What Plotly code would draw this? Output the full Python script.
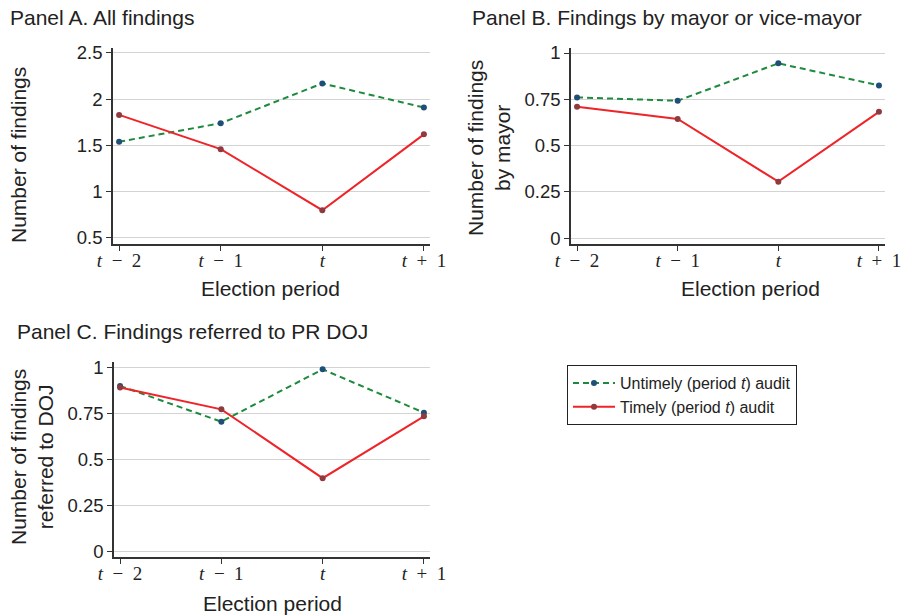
import plotly.graph_objects as go

periods = ["t-2", "t-1", "t", "t+1"]
period_labels = ["<i>t</i>\u2002\u2212\u20022", "<i>t</i>\u2002\u2212\u20021", "<i>t</i>", "<i>t</i>\u2002+\u20021"]

a_untimely = [1.54, 1.74, 2.17, 1.91]
a_timely = [1.83, 1.46, 0.80, 1.62]
b_untimely = [0.76, 0.742, 0.944, 0.825]
b_timely = [0.709, 0.644, 0.305, 0.682]
c_untimely = [0.899, 0.705, 0.989, 0.754]
c_timely = [0.891, 0.772, 0.398, 0.734]

a_ticks = [0.5, 1, 1.5, 2, 2.5]
a_tick_labels = ["0.5", "1", "1.5", "2", "2.5"]
bc_ticks = [0, 0.25, 0.5, 0.75, 1]
bc_tick_labels = ["0", "0.25", "0.5", "0.75", "1"]

x_idx = list(range(len(periods)))

GREEN = "#1e8a3e"
BLUE = "#1f4e79"
RED = "#ee2428"
DRED = "#8e3a3f"
SANS = "Liberation Sans, Arial, Helvetica, sans-serif"
SERIF = "Liberation Serif, Times New Roman, serif"
TXT = "#222222"

fig = go.Figure()

panels = [
    ("x", "y", a_untimely, a_timely),
    ("x2", "y2", b_untimely, b_timely),
    ("x3", "y3", c_untimely, c_timely),
]
for i, (xa, ya, unt, tim) in enumerate(panels):
    fig.add_trace(go.Scatter(
        x=x_idx, y=unt, xaxis=xa, yaxis=ya, mode="lines+markers",
        name="Untimely (period <i>t</i>) audit", legendgroup="u", showlegend=(i == 0),
        line=dict(color=GREEN, width=2, dash="6px,4px"),
        marker=dict(color=BLUE, size=6),
    ))
    fig.add_trace(go.Scatter(
        x=x_idx, y=tim, xaxis=xa, yaxis=ya, mode="lines+markers",
        name="Timely (period <i>t</i>) audit", legendgroup="t", showlegend=(i == 0),
        line=dict(color=RED, width=2),
        marker=dict(color=DRED, size=6),
    ))

W, H = 901, 616


def px_x(p):
    return p / W


def px_y(p):
    return 1 - p / H


xcommon = dict(
    tickmode="array", tickvals=x_idx, ticktext=period_labels,
    range=[-0.06, 3.06], showline=True, linecolor="#333333", linewidth=1.5,
    ticks="outside", ticklen=5, tickcolor="#333333", tickwidth=1.2,
    showgrid=False, zeroline=False, automargin=False,
    ticklabeloverflow="allow", ticklabelstandoff=-7,
    tickfont=dict(family=SERIF, size=19, color=TXT),
)
ycommon = dict(
    showline=True, linecolor="#333333", linewidth=1.5,
    ticks="outside", ticklen=5, tickcolor="#333333", tickwidth=1.2,
    showgrid=True, gridcolor="#d3d3d3", gridwidth=1, zeroline=False, automargin=False,
    tickfont=dict(family=SANS, size=18.5, color=TXT),
    tickmode="array",
)

fig.update_layout(
    template="none",
    width=W, height=H,
    margin=dict(l=0, r=0, t=0, b=0, pad=0),
    paper_bgcolor="white", plot_bgcolor="white",
    font=dict(family=SANS, size=16, color=TXT),
    xaxis=dict(domain=[px_x(113), px_x(430)], anchor="y", **xcommon),
    yaxis=dict(domain=[px_y(244), px_y(48)], anchor="x", range=[0.435, 2.553],
               tickvals=a_ticks, ticktext=a_tick_labels, **ycommon),
    xaxis2=dict(domain=[px_x(571), px_x(885)], anchor="y2", **xcommon),
    yaxis2=dict(domain=[px_y(244), px_y(48)], anchor="x2", range=[-0.032, 1.027],
                tickvals=bc_ticks, ticktext=bc_tick_labels, **ycommon),
    xaxis3=dict(domain=[px_x(114), px_x(430)], anchor="y3", **xcommon),
    yaxis3=dict(domain=[px_y(557), px_y(362)], anchor="x3", range=[-0.030, 1.029],
                tickvals=bc_ticks, ticktext=bc_tick_labels, **ycommon),
    legend=dict(
        x=px_x(567), y=px_y(365), xanchor="left", yanchor="top",
        bordercolor="#222222", borderwidth=1, bgcolor="white",
        font=dict(family=SANS, size=16, color=TXT),
        tracegroupgap=0, itemwidth=42,
    ),
    showlegend=True,
)

ann = []
ann.append(dict(text="Panel A. All findings", x=px_x(8), y=px_y(17), xanchor="left", yanchor="middle"))
ann.append(dict(text="Panel B. Findings by mayor or vice-mayor", x=px_x(470), y=px_y(17), xanchor="left", yanchor="middle"))
ann.append(dict(text="Panel C. Findings referred to PR DOJ", x=px_x(15), y=px_y(331), xanchor="left", yanchor="middle"))
for a in ann:
    a.update(font=dict(family=SANS, size=21, color=TXT))
ytitles = [
    ("Number of findings", 18, 155),
    ("Number of findings<br>by mayor", 489, 148),
    ("Number of findings<br>referred to DOJ", 32, 457),
]
for t, xx, yy in ytitles:
    ann.append(dict(text=t, x=px_x(xx), y=px_y(yy), xanchor="center", yanchor="middle",
                    textangle=-90, font=dict(family=SANS, size=21, color=TXT)))
for xx, yy in [(270, 289), (750, 289), (272, 603)]:
    ann.append(dict(text="Election period", x=px_x(xx), y=px_y(yy), xanchor="center", yanchor="middle",
                    font=dict(family=SANS, size=21, color=TXT)))
for a in ann:
    a.update(xref="paper", yref="paper", showarrow=False)
fig.update_layout(annotations=ann)

fig.write_html("out.html", config={"displayModeBar": False},
               post_script="document.body.style.margin='0px';")
